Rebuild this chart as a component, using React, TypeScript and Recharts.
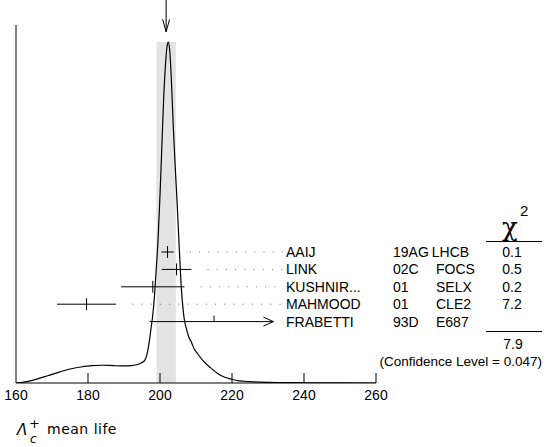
import {
  ComposedChart,
  Line,
  XAxis,
  YAxis,
  Scatter,
  ErrorBar,
  ReferenceArea,
  ReferenceLine,
  ReferenceDot,
} from "recharts";

// ideogram curve (x = lifetime, y = relative height)
const curveX = [160, 163, 166, 169, 172, 175, 178, 181, 184, 187, 190, 192, 194, 195, 195.8, 196.5, 197, 197.5, 198, 198.5, 199, 199.5, 200, 200.5, 201, 201.5, 202, 202.3, 202.7, 203.2, 203.7, 204.2, 204.7, 205.2, 205.7, 206.2, 206.7, 207.3, 208, 208.7, 209.5, 210.5, 212, 214, 216, 218, 220, 222, 225, 230, 240, 250, 260];
const curveY = [0, 0.004, 0.012, 0.022, 0.032, 0.041, 0.047, 0.051, 0.052, 0.051, 0.05, 0.051, 0.055, 0.06, 0.067, 0.09, 0.12, 0.16, 0.2, 0.26, 0.34, 0.43, 0.55, 0.69, 0.83, 0.93, 0.99, 1.0, 0.975, 0.88, 0.75, 0.64, 0.54, 0.43, 0.32, 0.24, 0.19, 0.16, 0.135, 0.12, 0.1, 0.085, 0.065, 0.045, 0.028, 0.017, 0.011, 0.006, 0.004, 0.002, 0.0008, 0.0003, 0];

// measurements
const names = ["AAIJ", "LINK", "KUSHNIR...", "MAHMOOD", "FRABETTI"];
const codes = ["19AG", "02C", "01", "01", "93D"];
const exps = ["LHCB", "FOCS", "SELX", "CLE2", "E687"];
const values = [202.1, 204.6, 198.0, 179.6, 215.0];
const errLo = [1.7, 4.1, 8.8, 8.2, 17.9];
const errHi = [1.7, 4.1, 8.8, 8.2, 16.5];
const arrows = [false, false, false, false, true];
const chi2 = ["0.1", "0.5", "0.2", "7.2", ""];
const chi2Total = "7.9";
const confidence = "(Confidence Level = 0.047)";

const average = 201.7;
const band = [199.0, 204.4];
const xTicks = [160, 180, 200, 220, 240, 260];

const curve = curveX.map((x, i) => ({ x, y: curveY[i] }));
const rows = values.map((v, i) => ({ x: v, row: i, err: [errLo[i], errHi[i]], idx: i }));

const tableFont = "'Liberation Sans', Arial, Helvetica, sans-serif";

function XTick(props: any) {
  const { x, y, payload } = props;
  return (
    <g>
      {payload.value !== 160 && (
        <line x1={x} x2={x} y1={y} y2={y - 10} stroke="#000" strokeWidth={1} />
      )}
      <text x={x} y={y + 17} textAnchor="middle" fontFamily={tableFont} fontSize={14} fill="#000">
        {payload.value}
      </text>
    </g>
  );
}

// centre tick of each measurement
function CentreTick(props: any) {
  const { cx, cy, payload } = props;
  return (
    <line x1={cx} x2={cx} y1={cy - 6} y2={arrows[payload.idx] ? cy : cy + 6} stroke="#000" strokeWidth={1} />
  );
}

// table text for one row, anchored on the row's y
function RowText(i: number) {
  return (p: any) => {
    const base = p.cy + 5;
    const longCode = codes[i].length > 3;
    return (
      <g fontFamily={tableFont} fontSize={14} fill="#000">
        <text x={286} y={base}>{names[i]}</text>
        <text x={393} y={base}>
          {codes[i]}
          {longCode ? <tspan dx={3}>{exps[i]}</tspan> : <tspan x={436}>{exps[i]}</tspan>}
        </text>
        <text x={512} y={base} textAnchor="middle">{chi2[i]}</text>
      </g>
    );
  };
}

const ArrowRight = (p: any) => (
  <path d={`M${p.cx - 10},${p.cy - 4.5} L${p.cx},${p.cy} L${p.cx - 10},${p.cy + 4.5}`} fill="none" stroke="#000" strokeWidth={1} />
);

const ArrowDown = (p: any) => (
  <path d={`M${p.cx - 3.5},${p.cy - 12.5} L${p.cx},${p.cy} L${p.cx + 3.5},${p.cy - 12.5}`} fill="none" stroke="#000" strokeWidth={1} />
);

export default function App() {
  return (
    <div style={{ position: "relative", width: 548, height: 447 }}>
      <style>{`body{margin:0}`}</style>
      <ComposedChart width={548} height={447} margin={{ top: 25, right: 172, left: 16, bottom: 34 }}>
        <XAxis
          dataKey="x"
          type="number"
          domain={[160, 260]}
          ticks={xTicks}
          allowDataOverflow
          height={30}
          tickSize={0}
          tickMargin={0}
          tickLine={false}
          axisLine={{ stroke: "#000", strokeWidth: 1 }}
          tick={<XTick />}
          interval={0}
        />
        <YAxis yAxisId="main" type="number" domain={[0, 1.05]} allowDataOverflow hide />
        <YAxis yAxisId="rows" dataKey="row" type="number" domain={[-13.05, 7.53]} reversed hide />

        <ReferenceArea yAxisId="main" x1={band[0]} x2={band[1]} y1={0} y2={1.0} fill="#e3e3e3" fillOpacity={1} stroke="none" />
        <ReferenceLine yAxisId="main" x={160} stroke="#000" strokeWidth={1} />

        {values.map((v, i) =>
          arrows[i] ? null : (
            <ReferenceLine
              key={i}
              yAxisId="rows"
              segment={[{ x: v + errHi[i] + 4.5, y: i }, { x: 234.2, y: i }]}
              stroke="#777"
              strokeWidth={1}
              strokeDasharray="1 8.2"
            />
          )
        )}

        <Line
          yAxisId="main"
          data={curve}
          dataKey="y"
          type="monotone"
          stroke="#000"
          strokeWidth={1.2}
          dot={false}
          isAnimationActive={false}
        />

        <Scatter yAxisId="rows" data={rows} shape={<CentreTick />} isAnimationActive={false}>
          <ErrorBar dataKey="err" direction="x" width={0} stroke="#000" strokeWidth={1} isAnimationActive={false} />
        </Scatter>

        {values.map((v, i) =>
          arrows[i] ? (
            <ReferenceDot key={"a" + i} yAxisId="rows" x={v + errHi[i]} y={i} r={0} shape={<ArrowRight />} ifOverflow="visible" />
          ) : null
        )}

        {values.map((v, i) => (
          <ReferenceDot key={"t" + i} yAxisId="rows" x={v} y={i} r={0} shape={RowText(i)} ifOverflow="visible" />
        ))}

        <ReferenceLine
          yAxisId="main"
          segment={[{ x: average, y: 1.125 }, { x: average, y: 1.03 }]}
          stroke="#000"
          strokeWidth={1}
          ifOverflow="visible"
        />
        <ReferenceDot yAxisId="main" x={average} y={1.03} r={0} shape={<ArrowDown />} ifOverflow="visible" />
      </ComposedChart>

      <svg width={548} height={447} style={{ position: "absolute", left: 0, top: 0, pointerEvents: "none" }}>
        <text x={502} y={236} fontFamily="'DejaVu Serif', serif" fontSize={26} fill="#000">χ</text>
        <text x={520} y={216} fontFamily={tableFont} fontSize={15} fill="#000">2</text>
        <line x1={486} x2={542} y1={241.5} y2={241.5} stroke="#000" strokeWidth={1} />
        <line x1={486} x2={542} y1={331.5} y2={331.5} stroke="#000" strokeWidth={1} />
        <text x={513} y={349} textAnchor="middle" fontFamily={tableFont} fontSize={14} fill="#000">{chi2Total}</text>
        <text x={542} y={366} textAnchor="end" fontFamily={tableFont} fontSize={13.5} fill="#000">{confidence}</text>
        <g fontFamily="'DejaVu Sans', sans-serif" fill="#000">
          <text x={17} y={435} fontSize={15} fontStyle="italic">Λ</text>
          <text x={29} y={428} fontSize={13}>+</text>
          <text x={30} y={443} fontSize={12} fontStyle="italic">c</text>
          <text x={47} y={434} fontSize={14} letterSpacing={0.5}>mean life</text>
        </g>
      </svg>
    </div>
  );
}
